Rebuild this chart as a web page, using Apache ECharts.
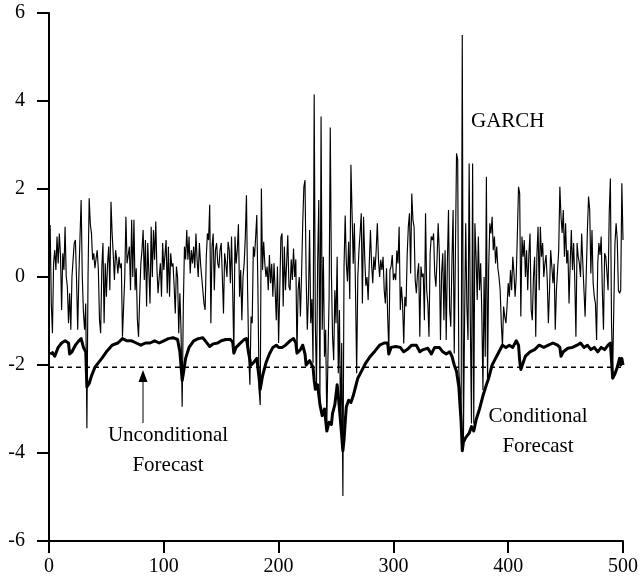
<!DOCTYPE html>
<html><head><meta charset="utf-8">
<script src="https://cdn.jsdelivr.net/npm/echarts/dist/echarts.min.js"></script>
<style>html,body{margin:0;padding:0;background:#fff;}#c{width:641px;height:584px;}</style>
</head><body><div id="c"></div>
<script>
// GARCH simulated series, x = 1..500
const garch = [
 1.18,-0.6,-1.28,0.31,0.61,0.16,0.92,0.31,0.99,0.5,
 -0.75,0.54,0.16,1.14,0.01,-0.22,-1.05,-0.37,-1.2,0.0,
 0.4,0.77,0.84,-0.07,-1.2,0.0,0.9,1.75,0.0,-0.8,
 -1.2,-0.6,-3.44,0.0,1.79,1.2,0.99,0.39,0.54,0.2,
 0.42,0.61,0.16,-0.98,-1.28,0.2,0.77,-1.05,0.31,-0.45,
 0.3,0.69,-0.3,1.71,0.99,0.5,-0.07,0.61,0.39,0.08,
 0.46,0.2,0.31,-1.36,-0.67,0.0,1.37,0.31,0.5,0.69,
 -0.3,1.3,0.0,1.3,-0.3,0.2,-0.98,-1.36,-0.45,0.3,
 0.61,1.07,-0.07,0.84,-0.67,0.77,0.1,-0.6,1.14,0.0,
 1.07,0.39,1.26,0.2,-0.37,0.0,0.31,-0.45,0.77,0.16,
 0.5,0.84,-0.37,0.69,-0.45,0.54,0.24,0.31,-0.2,-0.83,
 0.24,0.0,-1.28,-0.37,-1.2,-2.95,-0.67,0.69,0.4,1.07,
 0.39,0.92,0.08,0.61,0.31,0.69,0.2,0.99,0.39,0.0,
 0.77,0.31,0.0,-0.3,-0.6,-0.75,0.46,0.99,0.84,1.64,
 -1.05,0.69,0.99,-0.3,0.61,0.77,0.31,0.2,0.61,0.77,
 0.0,-0.83,0.54,0.3,0.0,0.8,0.61,-0.14,0.92,-0.3,
 -1.73,0.92,0.31,0.61,1.2,-0.45,0.16,-0.98,0.0,0.31,
 0.9,1.86,-0.3,-1.81,-2.45,-0.9,-1.05,0.69,0.46,0.9,
 1.41,-0.3,-2.57,-2.91,2.01,0.16,0.8,0.31,0.0,0.24,
 -0.3,0.5,-0.14,0.3,-0.45,0.31,-0.3,-0.98,0.24,-1.5,
 -0.3,0.9,0.99,-0.67,0.69,-0.3,0.3,0.95,-0.22,-0.3,
 0.4,-0.07,0.65,0.0,0.4,-1.73,-0.3,0.0,-0.9,0.05,
 1.2,2.05,2.2,0.0,-1.2,-0.45,1.07,-1.05,-0.5,-1.96,
 4.15,-1.05,-2.49,0.3,1.75,-2.8,3.65,-1.2,0.46,-1.81,
 -1.2,-3.33,-1.81,-0.45,3.4,0.08,-1.36,-1.89,-0.3,-1.05,
 0.46,-2.19,-0.75,-3.5,-1.5,-4.98,0.24,1.4,0.31,-0.1,
 0.8,-0.5,2.55,1.45,0.3,1.22,-0.3,-2.19,0.0,0.61,
 1.0,1.45,-0.6,1.37,0.46,-0.2,0.0,-0.52,0.31,1.07,
 0.3,-0.14,0.46,0.16,0.61,1.22,0.4,0.0,0.39,0.16,
 0.46,-0.3,-0.6,0.2,-0.9,-1.66,0.16,0.24,0.5,-0.07,
 0.08,-0.07,0.6,0.31,1.14,-0.75,-0.22,-0.6,-1.51,-0.45,
 -0.67,0.5,1.14,1.45,0.08,1.9,1.3,1.14,-0.07,-0.37,
 0.08,0.31,-1.36,0.24,0.0,0.08,-0.98,1.45,-0.3,-0.6,
 -1.36,0.54,0.92,0.84,0.99,0.08,-0.22,0.39,1.22,0.54,
 -1.43,0.08,0.54,-0.98,0.61,-1.43,0.3,1.52,-0.75,-1.13,
 0.4,1.52,-1.74,0.5,2.81,2.66,-2.11,-2.6,-3.2,5.5,
 -3.7,-1.0,1.22,-0.67,-1.43,2.58,-1.0,-3.33,2.58,-3.33,
 1.22,0.46,-0.52,0.92,-0.3,0.31,-0.8,-2.57,0.0,-1.81,
 2.28,-2.42,0.2,1.22,0.99,1.37,0.61,0.92,0.31,0.69,
 0.2,0.0,-0.3,-1.05,-1.58,-0.67,-0.9,-1.05,-0.67,-0.14,
 -0.45,0.16,-0.3,0.46,0.1,-0.45,0.0,0.99,2.05,1.9,
 -0.9,0.92,0.46,0.84,0.0,0.61,-0.3,0.5,0.99,-0.75,
 -0.98,0.0,0.46,-1.36,0.5,1.14,-0.3,1.14,0.46,0.77,
 0.0,0.31,0.5,-0.07,-1.05,-0.3,0.61,0.24,-0.14,0.3,
 -1.2,-0.3,0.16,0.61,2.05,1.37,1.0,1.52,0.46,1.22,
 0.31,0.61,-0.6,0.3,1.07,0.16,0.77,-0.07,-1.36,0.77,
 0.46,0.31,0.0,0.99,0.3,-0.3,-0.9,0.08,1.07,1.83,
 1.52,0.08,1.07,-0.14,-0.45,-0.6,-1.43,0.31,0.77,0.5,
 0.92,-0.3,-1.2,0.54,0.46,0.1,-0.3,1.45,2.24,-1.05,
 -2.19,-0.67,0.77,1.22,0.84,-0.3,-0.37,-0.3,2.13,0.84
];
// Conditional forecast (thick line): observation index and value
const condX = [1,3,5,8,11,14,17,18,20,23,26,28,30,32,33,35,37,40,43,46,50,55,60,64,68,72,76,80,84,88,92,96,100,104,108,112,114,116,117,119,122,126,130,134,137,140,143,147,150,154,158,160,161,163,166,170,172,174,176,178,181,183,184,186,189,192,195,198,200,203,206,210,213,215,216,219,221,223,224,227,230,231,232,234,236,238,240,242,244,246,247,249,251,252,254,256,257,258,259,261,263,265,267,269,272,276,280,284,288,292,295,296,298,302,306,309,312,316,320,323,326,330,333,336,340,343,346,349,351,353,355,357,358,359,360,361,363,366,368,370,372,375,378,381,383,386,389,392,395,398,401,404,407,409,410,411,413,415,419,423,427,431,435,439,443,445,446,448,452,456,460,463,466,469,472,475,478,481,484,487,489,490,491,493,495,497,498,499,500];
const condY = [-1.75,-1.72,-1.8,-1.6,-1.5,-1.45,-1.5,-1.75,-1.7,-1.55,-1.45,-1.4,-1.6,-1.7,-2.5,-2.42,-2.25,-2.05,-1.95,-1.85,-1.7,-1.55,-1.5,-1.4,-1.45,-1.45,-1.5,-1.55,-1.5,-1.5,-1.45,-1.5,-1.45,-1.4,-1.38,-1.42,-1.7,-2.35,-2.2,-1.85,-1.6,-1.45,-1.4,-1.38,-1.48,-1.58,-1.52,-1.5,-1.45,-1.42,-1.42,-1.48,-1.73,-1.6,-1.52,-1.42,-1.4,-1.75,-2.0,-1.95,-1.85,-2.3,-2.55,-2.25,-1.95,-1.75,-1.6,-1.55,-1.6,-1.6,-1.55,-1.45,-1.4,-1.5,-1.73,-1.65,-1.55,-1.75,-2.0,-1.9,-2.05,-2.35,-2.55,-2.45,-2.9,-3.15,-3.0,-3.5,-3.3,-3.35,-3.1,-2.9,-2.45,-2.7,-3.3,-3.95,-3.7,-3.3,-2.95,-2.8,-2.85,-2.7,-2.5,-2.3,-2.15,-1.95,-1.8,-1.68,-1.55,-1.5,-1.5,-1.75,-1.6,-1.58,-1.6,-1.7,-1.65,-1.55,-1.55,-1.7,-1.65,-1.62,-1.75,-1.6,-1.6,-1.7,-1.75,-1.7,-1.8,-2.0,-2.15,-2.5,-2.9,-3.3,-3.95,-3.75,-3.65,-3.55,-3.4,-3.5,-3.25,-3.0,-2.7,-2.45,-2.3,-2.0,-1.85,-1.7,-1.55,-1.6,-1.55,-1.6,-1.45,-1.55,-1.9,-2.1,-1.95,-1.8,-1.7,-1.65,-1.55,-1.6,-1.55,-1.5,-1.55,-1.6,-1.8,-1.7,-1.62,-1.6,-1.55,-1.5,-1.6,-1.55,-1.65,-1.6,-1.7,-1.6,-1.65,-1.55,-1.5,-1.9,-2.3,-2.2,-2.05,-1.85,-2.0,-1.85,-2.0];
// Unconditional forecast level
const uncondLevel = -2.05;
const uncondRange = [0, 500];
const xTickValues = [0, 100, 200, 300, 400, 500];
const yTickValues = [-6, -4, -2, 0, 2, 4, 6];
const labelGarch = 'GARCH';
const labelUncond = ['Unconditional', 'Forecast'];
const labelCond = ['Conditional', 'Forecast'];

const chart = echarts.init(document.getElementById('c'), null, {renderer: 'canvas'});
const FONT = '"Liberation Serif", "Times New Roman", serif';
const axisCommon = {
  type: 'value',
  axisLine: {show: true, onZero: false, lineStyle: {color: '#000', width: 2}},
  axisTick: {show: true, inside: false, length: 12, lineStyle: {color: '#000', width: 2}},
  splitLine: {show: false},
  axisLabel: {color: '#000', fontFamily: FONT, fontSize: 20}
};
chart.setOption({
  animation: false,
  backgroundColor: '#fff',
  grid: {left: 49, right: 17, top: 13, bottom: 43, containLabel: false},
  xAxis: Object.assign({}, axisCommon, {
    min: xTickValues[0], max: xTickValues[xTickValues.length - 1], interval: 100,
    axisLabel: Object.assign({}, axisCommon.axisLabel, {margin: 16})
  }),
  yAxis: Object.assign({}, axisCommon, {
    min: yTickValues[0], max: yTickValues[yTickValues.length - 1], interval: 2,
    axisLabel: Object.assign({}, axisCommon.axisLabel, {margin: 24, showMaxLabel: true, showMinLabel: true})
  }),
  series: [
    {type: 'line', name: 'Unconditional', data: uncondRange.map(x => [x, uncondLevel]), symbol: 'none',
     lineStyle: {color: '#000', width: 1.6, type: [5, 4]}, z: 1},
    {type: 'line', name: 'GARCH', data: garch.map((v, i) => [i + 1, v]), symbol: 'none',
     lineStyle: {color: '#000', width: 1.15}, z: 2},
    {type: 'line', name: 'Conditional', data: condX.map((x, i) => [x, condY[i]]), symbol: 'none',
     lineStyle: {color: '#000', width: 3, join: 'round'}, z: 3}
  ],
  graphic: [
    {type: 'text', x: 471, y: 121, style: {text: labelGarch, font: '21px ' + FONT, fill: '#000', verticalAlign: 'middle'}},
    {type: 'text', x: 168, y: 435, style: {text: labelUncond[0], font: '21px ' + FONT, fill: '#000', align: 'center', verticalAlign: 'middle'}},
    {type: 'text', x: 168, y: 465, style: {text: labelUncond[1], font: '21px ' + FONT, fill: '#000', align: 'center', verticalAlign: 'middle'}},
    {type: 'text', x: 538, y: 416, style: {text: labelCond[0], font: '21px ' + FONT, fill: '#000', align: 'center', verticalAlign: 'middle'}},
    {type: 'text', x: 538, y: 446, style: {text: labelCond[1], font: '21px ' + FONT, fill: '#000', align: 'center', verticalAlign: 'middle'}},
    {type: 'line', shape: {x1: 143, y1: 423, x2: 143, y2: 380}, style: {stroke: '#000', lineWidth: 1}},
    {type: 'polygon', shape: {points: [[143, 370], [138.5, 382], [147.5, 382]]}, style: {fill: '#000'}}
  ]
});
</script></body></html>
